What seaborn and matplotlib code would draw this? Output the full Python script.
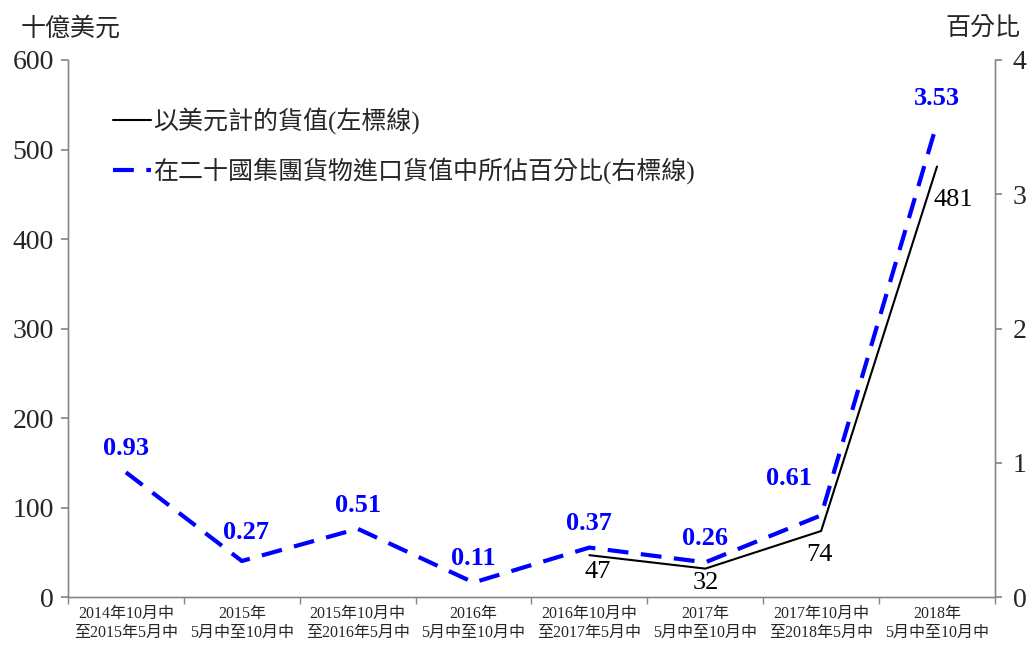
import numpy as np
import pandas as pd
import matplotlib
matplotlib.use("Agg")
import matplotlib.pyplot as plt
import seaborn as sns

periods = ["2014年10月中\n至2015年5月中", "2015年\n5月中至10月中",
           "2015年10月中\n至2016年5月中", "2016年\n5月中至10月中",
           "2016年10月中\n至2017年5月中", "2017年\n5月中至10月中",
           "2017年10月中\n至2018年5月中", "2018年\n5月中至10月中"]
value_usd = [np.nan, np.nan, np.nan, np.nan, 47, 32, 74, 481]
share_pct = [0.93, 0.27, 0.51, 0.11, 0.37, 0.26, 0.61, 3.53]
label_usd = "以美元計的貨值(左標線)"
label_pct = "在二十國集團貨物進口貨值中所佔百分比(右標線)"

# label offsets in pixels (x, y) relative to each point
usd_offsets = [None, None, None, None, (8, -17), (1, -14), (-2, -24), (16, -33)]
pct_offsets = [(0, 24), (4, 29), (0, 23), (0, 24), (0, 24), (0, 24), (-32, 37), (0, 25)]

sns.set_theme(style="white")
fonts = ["Liberation Serif", "Noto Sans CJK TC"]
plt.rcParams["font.family"] = fonts

df = pd.DataFrame({"pos": np.arange(len(periods)), "usd": value_usd, "pct": share_pct})

fig = plt.figure(figsize=(10.31, 6.45), dpi=100)
ax = fig.add_axes([0.066, 0.074, 0.899, 0.833])
ax2 = ax.twinx()

sns.lineplot(data=df.dropna(), x="pos", y="usd", ax=ax, color="black", lw=1.5, label=label_usd, legend=False)
sns.lineplot(data=df, x="pos", y="pct", ax=ax2, color="#0000ff", lw=3, label=label_pct, legend=False)
ax2.lines[0].set_dashes([5, 3])

ax.set_xlim(-0.5, 7.5)
ax.set_ylim(0, 600)
ax2.set_ylim(0, 4)
ax.set_yticks(range(0, 601, 100))
ax2.set_yticks(range(0, 5))
ax.set_xticks(df["pos"])
ax.set_xticklabels(periods, fontsize=11.5, linespacing=1.3)
ax.set_xticks(np.arange(-0.5, 8, 1), minor=True)
ax.tick_params(axis="x", which="major", length=0, pad=6)
ax.tick_params(axis="x", which="minor", length=5, color="#888888", direction="out", bottom=True)
ax.tick_params(axis="y", length=5, color="#888888", direction="out", left=True, labelsize=20, pad=5)
ax2.tick_params(axis="y", length=5, color="#888888", direction="out", right=True, labelsize=20, pad=8)
ax.set_xlabel("")
ax.set_ylabel("")
ax2.set_ylabel("")

for a in (ax, ax2):
    a.spines["top"].set_visible(False)
    for s in ("left", "right", "bottom"):
        a.spines[s].set_color("#888888")
        a.spines[s].set_linewidth(1)
ax.grid(False)
ax2.grid(False)

for x, v, off in zip(df["pos"], value_usd, usd_offsets):
    if off is not None:
        ax.annotate(f"{v:.0f}", (x, v), xytext=off, textcoords="offset pixels",
                    ha="center", va="center", fontsize=19, color="black")
for x, v, off in zip(df["pos"], share_pct, pct_offsets):
    ax2.annotate(f"{v:.2f}", (x, v), xytext=off, textcoords="offset pixels",
                 ha="center", va="center", fontsize=19, color="#0000ff", fontweight="bold")

h1, l1 = ax.get_legend_handles_labels()
h2, l2 = ax2.get_legend_handles_labels()
ax2.legend(h1 + h2, l1 + l2, loc="upper left", bbox_to_anchor=(0.038, 0.93), frameon=False,
           fontsize=18, handlelength=1.5, handletextpad=0.1, labelspacing=0.9, borderaxespad=0)

fig.text(0.02, 0.955, "十億美元", fontsize=18, ha="left", va="center")
fig.text(0.99, 0.955, "百分比", fontsize=18, ha="right", va="center")

fig.savefig("out.png", dpi=100)
